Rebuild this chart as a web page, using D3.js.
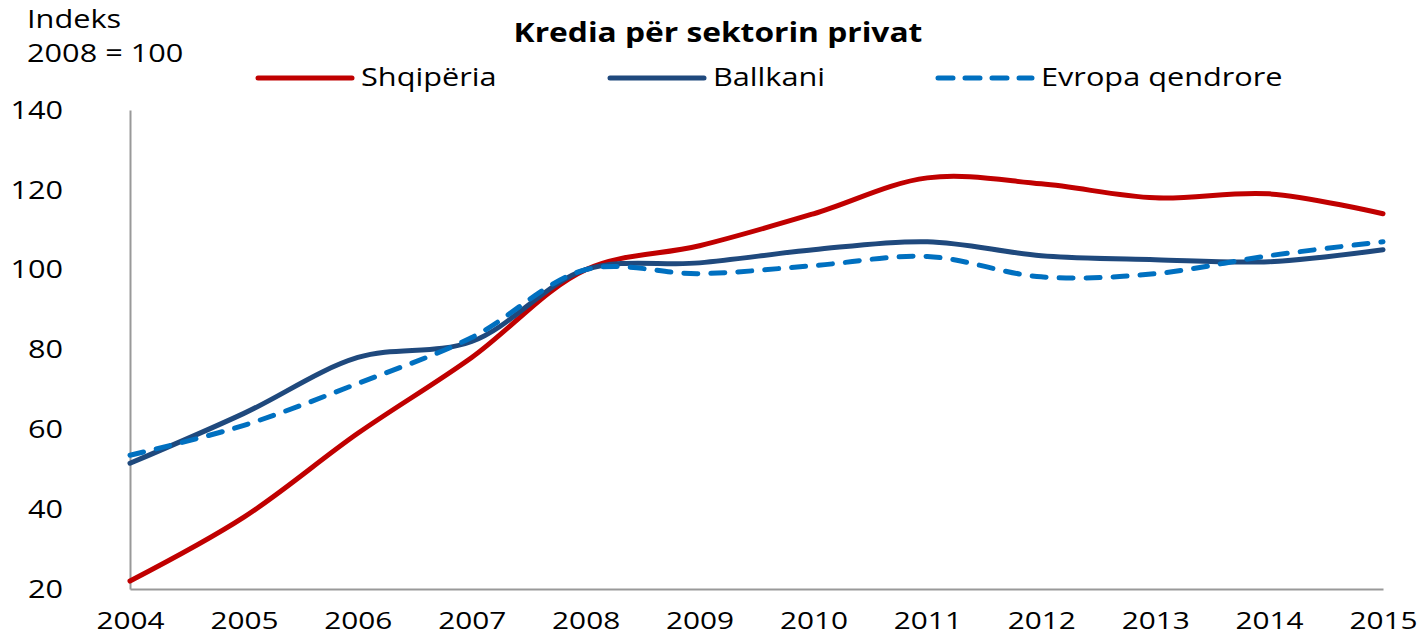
<!DOCTYPE html>
<html>
<head>
<meta charset="utf-8">
<script src="https://cdn.jsdelivr.net/npm/d3@7"></script>
<style>
  body { margin: 0; background: #fff; }
  text { font-family: "Open Sans", "Noto Sans", sans-serif; fill: #000; }
</style>
</head>
<body>
<svg id="chart_svg" width="1419" height="637"></svg>
<script>
var years = [2004, 2005, 2006, 2007, 2008, 2009, 2010, 2011, 2012, 2013, 2014, 2015];
var yTicks = [20, 40, 60, 80, 100, 120, 140];

var shqiperia = [22, 38, 59, 78, 100, 106, 114, 123, 121.5, 118, 119, 114];
var ballkani = [51.5, 64, 78, 82, 100, 101.7, 105, 107, 103.5, 102.5, 102, 105];
var evropa = [53.5, 61, 71.5, 83, 100, 99, 101, 103.3, 98.2, 99, 103.5, 107];

var series = [
  { name: "Shqipëria", values: shqiperia, color: "#c00000", dash: null },
  { name: "Ballkani", values: ballkani, color: "#1f497d", dash: null },
  { name: "Evropa qendrore", values: evropa, color: "#0070c0", dash: "14,13" }
];

var svg = d3.select("#chart_svg");

var x = d3.scaleLinear().domain([2004, 2015]).range([130, 1383]);
var y = d3.scaleLinear().domain([20, 140]).range([589, 110]);

// the original font is wider than Open Sans, so stretch each label a bit
var stretch = function(sel, k) {
  sel.each(function() {
    var w = this.getComputedTextLength();
    d3.select(this).attr("textLength", w * k).attr("lengthAdjust", "spacingAndGlyphs");
  });
};

// axes
var xAxis = svg.append("g")
  .attr("transform", "translate(0,589)")
  .call(d3.axisBottom(x).tickValues(years).tickFormat(d3.format("d")).tickSize(0).tickPadding(23));
xAxis.select(".domain").attr("stroke", "#999").attr("stroke-width", 2);
xAxis.selectAll("text").style("font-size", "24px");
stretch(xAxis.selectAll("text"), 1.24);

var yAxis = svg.append("g")
  .attr("transform", "translate(130,0)")
  .call(d3.axisLeft(y).tickValues(yTicks).tickSize(0).tickPadding(67));
yAxis.select(".domain").attr("stroke", "#999").attr("stroke-width", 2);
yAxis.selectAll("text").style("font-size", "26px");
stretch(yAxis.selectAll("text"), 1.18);

// lines
var line = d3.line()
  .x(function(d, i) { return x(years[i]); })
  .y(function(d) { return y(d); })
  .curve(d3.curveCatmullRom.alpha(0.5));

series.forEach(function(s) {
  svg.append("path")
    .datum(s.values)
    .attr("d", line)
    .attr("fill", "none")
    .attr("stroke", s.color)
    .attr("stroke-width", 5)
    .attr("stroke-linecap", "round")
    .attr("stroke-dasharray", s.dash);
});

// title and unit label
var title = svg.append("text")
  .attr("x", 718).attr("y", 42)
  .attr("text-anchor", "middle")
  .style("font-size", "26px").style("font-weight", "bold")
  .text("Kredia për sektorin privat");
stretch(title, 1.22);

var unit1 = svg.append("text").attr("x", 27).attr("y", 28).style("font-size", "26px").text("Indeks");
var unit2 = svg.append("text").attr("x", 27).attr("y", 62).style("font-size", "26px").text("2008 = 100");
stretch(unit1, 1.18);
stretch(unit2, 1.18);

// legend
var legendX = [258, 610, 938];
series.forEach(function(s, i) {
  var g = svg.append("g").attr("transform", "translate(" + legendX[i] + ",78)");
  g.append("line")
    .attr("x1", 0).attr("x2", 94).attr("y1", 0).attr("y2", 0)
    .attr("stroke", s.color).attr("stroke-width", 5)
    .attr("stroke-linecap", "round")
    .attr("stroke-dasharray", s.dash ? "15,12" : null);
  var t = g.append("text").attr("x", 103).attr("y", 8).style("font-size", "26px").text(s.name);
  stretch(t, 1.18);
});
</script>
</body>
</html>
